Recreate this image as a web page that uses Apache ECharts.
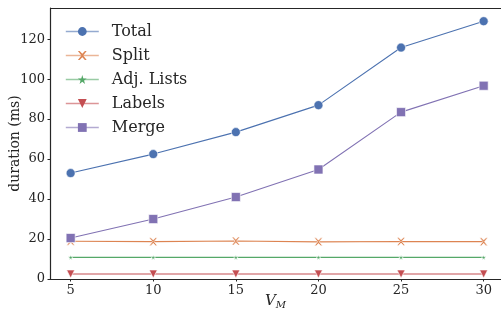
<!DOCTYPE html>
<html>
<head>
<meta charset="utf-8">
<script src="https://cdn.jsdelivr.net/npm/echarts@6/dist/echarts.min.js"></script>
<style>
  html, body { margin: 0; padding: 0; background: #fff; }
  #main { width: 501px; height: 312px; }
</style>
</head>
<body>
<div id="main"></div>
<script>
  // x values (V_M)
  var vm = [5, 10, 15, 20, 25, 30];
  var total = [53, 62.5, 73.5, 87, 115.8, 129];
  var split = [18.9, 18.7, 19.0, 18.6, 18.8, 18.7];
  var adjLists = [10.8, 10.8, 10.8, 10.8, 10.8, 10.8];
  var labels = [2.5, 2.5, 2.5, 2.5, 2.5, 2.5];
  var merge = [20.5, 30, 41, 54.8, 83.5, 96.7];
  var yTicks = [0, 20, 40, 60, 80, 100, 120];

  var font = '"DejaVu Serif", serif';
  var xPath = 'path://M0,0L2,0L5,3L8,0L10,0L6,5L10,10L8,10L5,7L2,10L0,10L4,5Z';
  var starPath = 'path://M5,0L6.2,3.6L10,3.6L7,5.9L8.1,9.5L5,7.3L1.9,9.5L3,5.9L0,3.6L3.8,3.6Z';

  function pairs(arr) {
    return vm.map(function (v, i) { return [v, arr[i]]; });
  }

  function mk(name, data, color, symbol, size, rotate) {
    return {
      name: name,
      type: 'line',
      data: pairs(data),
      symbol: symbol,
      symbolSize: size,
      symbolRotate: rotate || 0,
      showAllSymbol: true,
      lineStyle: { color: color, width: 1.1 },
      itemStyle: { color: color, borderColor: '#fff', borderWidth: 0.6, opacity: 1 },
      emphasis: { disabled: true },
      animation: false
    };
  }

  function legendItem(name, color) {
    return {
      name: name,
      itemStyle: { color: color, borderWidth: 0, borderColor: color, opacity: 1 },
      lineStyle: { color: color, width: 1.6, opacity: 0.6 }
    };
  }

  var chart = echarts.init(document.getElementById('main'));
  var option = {
    backgroundColor: '#fff',
    animation: false,
    grid: { left: 50, right: 0, top: 8, bottom: 33, outerBoundsMode: 'none', containLabel: false },
    legend: {
      left: 65, top: 22,
      padding: 0,
      orient: 'vertical',
      itemWidth: 33, itemHeight: 11,
      itemGap: 5,
      textStyle: { fontFamily: font, fontSize: 16, color: '#262626', padding: [0, 0, 0, 8], lineHeight: 19 },
      data: [
        legendItem('Total', '#4C72B0'),
        legendItem('Split', '#DD8452'),
        legendItem('Adj. Lists', '#55A868'),
        legendItem('Labels', '#C44E52'),
        legendItem('Merge', '#8172B3')
      ]
    },
    xAxis: {
      type: 'value',
      min: 3.75, max: 31.05,
      interval: 5,
      name: '{v|V}{s|M}',
      nameLocation: 'middle',
      nameGap: 13,
      nameMoveOverlap: false,
      nameTextStyle: {
        rich: {
          v: { fontFamily: font, fontStyle: 'italic', fontSize: 15, color: '#262626' },
          s: { fontFamily: font, fontStyle: 'italic', fontSize: 10, color: '#262626', verticalAlign: 'bottom', padding: [8, 0, 0, 0] }
        }
      },
      axisLine: { lineStyle: { color: '#262626', width: 1.2 } },
      axisTick: { show: true, length: 2.5, lineStyle: { color: '#262626' }, customValues: vm },
      axisLabel: {
        fontFamily: font, fontSize: 13, color: '#262626', margin: 5,
        customValues: vm
      },
      splitLine: { show: false }
    },
    yAxis: {
      type: 'value',
      min: 0, max: 135.6,
      interval: 20,
      name: 'duration (ms)',
      nameLocation: 'middle',
      nameGap: 28,
      nameMoveOverlap: false,
      nameTextStyle: { fontFamily: font, fontSize: 14, color: '#262626' },
      axisLine: { show: true, lineStyle: { color: '#262626', width: 1.2 } },
      axisTick: { show: true, length: 2.5, lineStyle: { color: '#262626' }, customValues: yTicks },
      axisLabel: {
        fontFamily: font, fontSize: 13, color: '#262626', margin: 5,
        customValues: yTicks
      },
      splitLine: { show: false }
    },
    graphic: [{
      type: 'line',
      shape: { x1: 50, y1: 8.5, x2: 501, y2: 8.5 },
      style: { stroke: '#262626', lineWidth: 1.2 }
    }],
    series: [
      mk('Total', total, '#4C72B0', 'circle', 9),
      mk('Split', split, '#DD8452', xPath, 8),
      mk('Adj. Lists', adjLists, '#55A868', starPath, 5),
      mk('Labels', labels, '#C44E52', 'triangle', 8, 180),
      mk('Merge', merge, '#8172B3', 'rect', 9)
    ]
  };
  chart.setOption(option);
</script>
</body>
</html>
